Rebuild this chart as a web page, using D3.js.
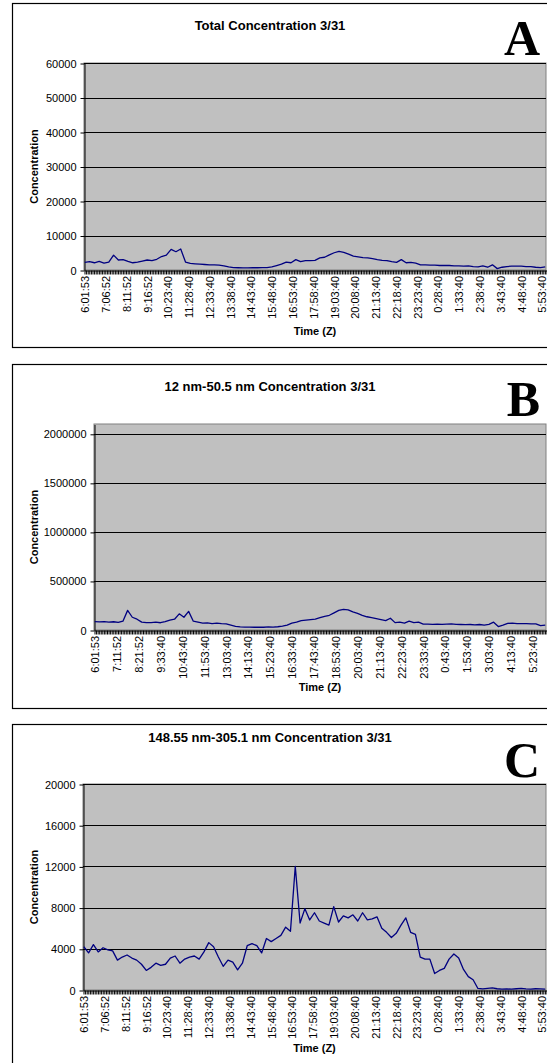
<!DOCTYPE html>
<html>
<head>
<meta charset="utf-8">
<script src="https://cdn.jsdelivr.net/npm/d3@7/dist/d3.min.js"></script>
<style>
  body { margin: 0; background: #fff; }
  svg { display: block; }
</style>
</head>
<body>
<svg id="chart" width="547" height="1063"></svg>
<script>
// category axis: 289 five-minute samples, labelled every 13 (A, C) or 14 (B)
const nCategories = 289;
const sampleStep = 3;

const timeLabelsAC = ["6:01:53", "7:06:52", "8:11:52", "9:16:52", "10:23:40", "11:28:40", "12:33:40",
  "13:38:40", "14:43:40", "15:48:40", "16:53:40", "17:58:40", "19:03:40", "20:08:40", "21:13:40",
  "22:18:40", "23:23:40", "0:28:40", "1:33:40", "2:38:40", "3:43:40", "4:48:40", "5:53:40"];
const timeLabelsB = ["6:01:53", "7:11:52", "8:21:52", "9:33:40", "10:43:40", "11:53:40", "13:03:40",
  "14:13:40", "15:23:40", "16:33:40", "17:43:40", "18:53:40", "20:03:40", "21:13:40", "22:23:40",
  "23:33:40", "0:43:40", "1:53:40", "3:03:40", "4:13:40", "5:23:40"];

const ticksA = [0, 10000, 20000, 30000, 40000, 50000, 60000];
const ticksB = [0, 500000, 1000000, 1500000, 2000000];
const ticksC = [0, 4000, 8000, 12000, 16000, 20000];

// Total concentration
const totalConc = [2200, 2400, 2100, 2500, 2000, 2300, 4300, 2900, 3000, 2500,
  2100, 2300, 2600, 2900, 2700, 3100, 3900, 4300, 6000, 5300,
  6100, 2300, 1900, 1800, 1700, 1600, 1500, 1500, 1400, 1200,
  900, 700, 650, 600, 600, 650, 650, 700, 700, 900,
  1300, 1700, 2300, 2100, 3000, 2400, 2700, 2700, 2800, 3500,
  3700, 4400, 5000, 5400, 5100, 4600, 4000, 3800, 3600, 3500,
  3300, 3000, 2800, 2700, 2400, 2200, 3000, 2100, 2200, 2000,
  1500, 1500, 1400, 1400, 1300, 1300, 1300, 1200, 1200, 1100,
  1200, 1000, 900, 1200, 800, 1500, 400, 800, 1000, 1100,
  1100, 1100, 1000, 1000, 800, 700, 900];

// 12 nm - 50.5 nm
const ultrafineConc = [85000, 82000, 86000, 80000, 84000, 78000, 90000, 200000, 130000, 110000,
  80000, 75000, 76000, 80000, 74000, 85000, 100000, 110000, 165000, 130000,
  190000, 90000, 80000, 70000, 72000, 66000, 70000, 64000, 62000, 50000,
  38000, 32000, 30000, 30000, 28000, 30000, 28000, 32000, 30000, 33000,
  40000, 50000, 70000, 80000, 95000, 100000, 105000, 110000, 125000, 140000,
  150000, 175000, 200000, 210000, 205000, 185000, 170000, 150000, 135000, 125000,
  115000, 105000, 95000, 120000, 75000, 80000, 70000, 90000, 75000, 80000,
  60000, 60000, 58000, 60000, 58000, 60000, 62000, 58000, 56000, 54000,
  56000, 52000, 56000, 50000, 58000, 80000, 35000, 50000, 68000, 70000,
  65000, 66000, 66000, 62000, 62000, 45000, 50000];

// 148.55 nm - 305.1 nm
const accumConc = [4200, 3600, 4400, 3700, 4100, 3900, 3800, 2900, 3200, 3400,
  3100, 2900, 2500, 1900, 2200, 2600, 2400, 2500, 3100, 3300,
  2600, 3000, 3200, 3300, 3000, 3700, 4600, 4200, 3200, 2300,
  2900, 2700, 1950, 2600, 4300, 4500, 4300, 3600, 5000, 4700,
  5000, 5300, 6100, 5700, 12000, 6500, 7900, 6800, 7500, 6700,
  6500, 6300, 8100, 6600, 7200, 7000, 7300, 6700, 7500, 6800,
  6900, 7100, 6000, 5600, 5100, 5500, 6300, 7000, 5600, 5400,
  3200, 3000, 3000, 1600, 1900, 2100, 3000, 3500, 3100, 2000,
  1300, 1000, 150, 100, 150, 200, 120, 80, 100, 90,
  120, 150, 100, 80, 120, 100, 90];

const svg = d3.select("#chart");
const sans = "'Liberation Sans', Arial, sans-serif";

const panels = [
  { box: [3, 347], title: "Total Concentration 3/31", titleY: 30, letter: "A", letterY: 55,
    plot: { left: 84, right: 546, top: 63, bottom: 270 }, yMax: 60000, yTicks: ticksA,
    values: totalConc, labels: timeLabelsAC, labelStep: 13, timeY: 335 },
  { box: [364, 708], title: "12 nm-50.5 nm Concentration 3/31", titleY: 391, letter: "B", letterY: 416,
    plot: { left: 94, right: 546, top: 424, bottom: 630 }, yMax: 2100000, yTicks: ticksB,
    values: ultrafineConc, labels: timeLabelsB, labelStep: 14, timeY: 691 },
  { box: [724, 1070], title: "148.55 nm-305.1 nm Concentration 3/31", titleY: 742, letter: "C", letterY: 777,
    plot: { left: 83, right: 546, top: 784, bottom: 990 }, yMax: 20000, yTicks: ticksC,
    values: accumConc, labels: timeLabelsAC, labelStep: 13, timeY: 1052 }
];

panels.forEach(p => {
  const g = svg.append("g");
  const pl = p.plot;

  g.append("rect")
    .attr("x", 12.5).attr("y", p.box[0] + 0.5)
    .attr("width", 600).attr("height", p.box[1] - p.box[0])
    .attr("fill", "#fff").attr("stroke", "#000").attr("stroke-width", 1.2);

  g.append("text")
    .attr("x", 270).attr("y", p.titleY)
    .attr("text-anchor", "middle")
    .style("font-family", sans).style("font-weight", "bold").style("font-size", "13px")
    .text(p.title);

  g.append("text")
    .attr("x", 540).attr("y", p.letterY)
    .attr("text-anchor", "end")
    .style("font-family", "'Liberation Serif', 'Times New Roman', serif")
    .style("font-weight", "bold").style("font-size", "50px")
    .text(p.letter);

  // plot area
  g.append("rect")
    .attr("x", pl.left).attr("y", pl.top)
    .attr("width", pl.right - pl.left).attr("height", pl.bottom - pl.top)
    .attr("fill", "#c0c0c0").attr("stroke", "#808080");

  const y = d3.scaleLinear().domain([0, p.yMax]).range([pl.bottom, pl.top]);
  const x = d3.scaleLinear().domain([0, nCategories]).range([pl.left, pl.right]);

  // gridlines
  g.append("g")
    .selectAll("line")
    .data(p.yTicks.filter(t => t > 0))
    .join("line")
    .attr("x1", pl.left).attr("x2", pl.right)
    .attr("y1", d => Math.round(y(d)) + 0.5).attr("y2", d => Math.round(y(d)) + 0.5)
    .attr("stroke", "#000").attr("stroke-width", 1);

  // y axis
  const yAxis = g.append("g")
    .attr("transform", `translate(${pl.left + 0.5},0.5)`)
    .call(d3.axisLeft(y).tickValues(p.yTicks).tickSize(4).tickSizeOuter(0).tickPadding(4)
      .tickFormat(d => String(d)));
  yAxis.selectAll("text").style("font-family", sans).style("font-size", "11px");

  // category tick marks
  g.append("g")
    .attr("transform", `translate(0.5,${pl.bottom + 0.5})`)
    .call(d3.axisBottom(x).tickValues(d3.range(nCategories + 1)).tickSize(4).tickSizeOuter(0)
      .tickFormat(""));

  // time labels
  const labelIdx = p.labels.map((_, i) => i * p.labelStep + 0.5);
  const xLab = g.append("g")
    .attr("transform", `translate(0,${pl.bottom})`)
    .call(d3.axisBottom(x).tickValues(labelIdx).tickSize(0)
      .tickFormat((d, i) => p.labels[i]));
  xLab.select(".domain").remove();
  xLab.selectAll("text")
    .attr("transform", "rotate(-90)")
    .attr("x", -6).attr("y", 0).attr("dy", "0.35em")
    .style("text-anchor", "end")
    .style("font-family", sans).style("font-size", "11px");

  // series line
  const line = d3.line()
    .x((d, i) => x(i * sampleStep + 0.5))
    .y(d => y(d));
  g.append("path")
    .datum(p.values)
    .attr("d", line)
    .attr("fill", "none")
    .attr("stroke", "#000080")
    .attr("stroke-width", 1.3)
    .attr("stroke-linejoin", "round");

  // axis titles
  g.append("text")
    .attr("transform", `translate(38,${(pl.top + pl.bottom) / 2}) rotate(-90)`)
    .attr("text-anchor", "middle")
    .style("font-family", sans).style("font-weight", "bold").style("font-size", "11px")
    .text("Concentration");

  g.append("text")
    .attr("x", (pl.left + pl.right) / 2).attr("y", p.timeY)
    .attr("text-anchor", "middle")
    .style("font-family", sans).style("font-weight", "bold").style("font-size", "11px")
    .text("Time (Z)");
});
</script>
</body>
</html>
